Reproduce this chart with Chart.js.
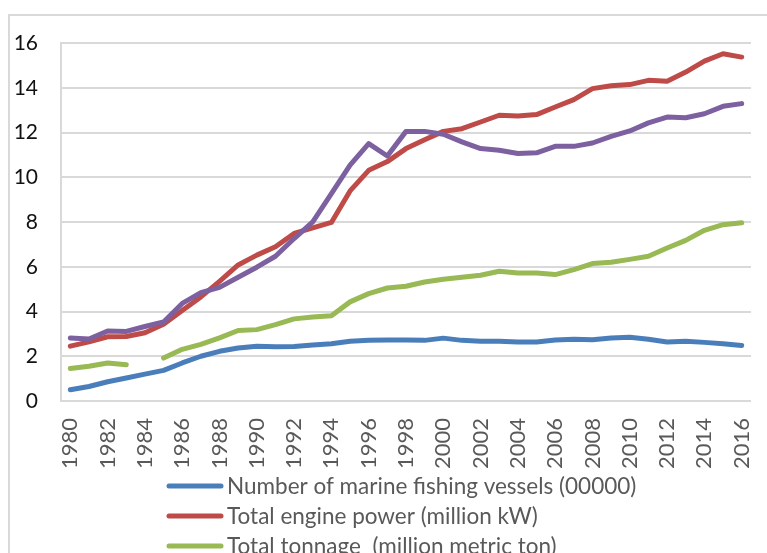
<!DOCTYPE html>
<html lang="en">
<head>
    <meta charset="UTF-8">
    <title>Marine fishing fleet</title>
    <script src="https://cdn.jsdelivr.net/npm/chart.js"></script>
    <style>
      body { margin: 0; overflow: hidden; background: #fff; }
      #wrap { position: relative; width: 767px; height: 553px; overflow: hidden; }
      #fleetChart { position: absolute; left: 0; top: 0; }
      #frame { position: absolute; left: 8px; top: 14px; width: 800px; height: 700px;
               border: 2px solid #d9d9d9; pointer-events: none; }
    </style>
</head>
<body>
  <div id="wrap">
    <canvas id="fleetChart" width="767" height="610"></canvas>
    <div id="frame"></div>
  </div>
<script>
  const years = ['1980','1981','1982','1983','1984','1985','1986','1987','1988','1989',
                 '1990','1991','1992','1993','1994','1995','1996','1997','1998','1999',
                 '2000','2001','2002','2003','2004','2005','2006','2007','2008','2009',
                 '2010','2011','2012','2013','2014','2015','2016'];

  const vessels = [0.50, 0.65, 0.86, 1.03, 1.20, 1.37, 1.70, 2.00, 2.22, 2.37,
                   2.45, 2.43, 2.44, 2.50, 2.56, 2.67, 2.72, 2.73, 2.73, 2.71,
                   2.81, 2.71, 2.67, 2.67, 2.64, 2.64, 2.73, 2.76, 2.74, 2.82,
                   2.85, 2.76, 2.64, 2.67, 2.62, 2.56, 2.48];

  const enginePower = [2.45, 2.64, 2.87, 2.88, 3.05, 3.43, 4.04, 4.65, 5.35, 6.08,
                       6.52, 6.89, 7.49, 7.74, 7.98, 9.39, 10.31, 10.70, 11.28, 11.68,
                       12.05, 12.17, 12.47, 12.77, 12.74, 12.80, 13.14, 13.47, 13.96, 14.09,
                       14.14, 14.33, 14.29, 14.70, 15.19, 15.52, 15.37];

  const tonnage = [1.45, 1.55, 1.70, 1.62, null, 1.92, 2.31, 2.53, 2.82, 3.15,
                   3.19, 3.41, 3.67, 3.75, 3.81, 4.43, 4.80, 5.05, 5.13, 5.32,
                   5.44, 5.53, 5.62, 5.80, 5.72, 5.72, 5.65, 5.87, 6.14, 6.20,
                   6.33, 6.47, 6.84, 7.18, 7.63, 7.88, 7.97];

  const catchProd = [2.82, 2.77, 3.13, 3.11, 3.33, 3.53, 4.36, 4.84, 5.08, 5.53,
                     5.98, 6.47, 7.26, 8.01, 9.27, 10.54, 11.50, 10.95, 12.05, 12.05,
                     11.92, 11.58, 11.28, 11.21, 11.06, 11.09, 11.38, 11.38, 11.53, 11.83,
                     12.07, 12.43, 12.69, 12.66, 12.84, 13.17, 13.29];

  const yTicks = [0, 2, 4, 6, 8, 10, 12, 14, 16];

  function series(label, data, color, order) {
    return {
      label: label,
      data: data,
      borderColor: color,
      backgroundColor: color,
      borderWidth: 5,
      borderCapStyle: 'round',
      borderJoinStyle: 'round',
      pointRadius: 0,
      tension: 0,
      spanGaps: false,
      order: order
    };
  }

  // legend stacked one per row under the axis, like the original
  const stackLegend = {
    id: 'stackLegend',
    afterDraw(chart) {
      const ctx = chart.ctx;
      const top = chart.scales.x.bottom + 15;
      ctx.save();
      ctx.font = '22.5px Lato';
      ctx.fillStyle = '#595959';
      ctx.textBaseline = 'middle';
      ctx.textAlign = 'left';
      chart.data.datasets.forEach((ds, i) => {
        const y = top + i * 30;
        ctx.strokeStyle = ds.borderColor;
        ctx.lineWidth = 5;
        ctx.lineCap = 'round';
        ctx.beginPath();
        ctx.moveTo(169, y);
        ctx.lineTo(221, y);
        ctx.stroke();
        ctx.fillText(ds.label, 227, y + 1);
      });
      ctx.restore();
    }
  };

  new Chart(document.getElementById('fleetChart'), {
    type: 'line',
    data: {
      labels: years,
      datasets: [
        series('Number of marine fishing vessels (00000)', vessels, '#4a7ebb', 4),
        series('Total engine power (million kW)', enginePower, '#be4b48', 3),
        series('Total tonnage  (million metric ton)', tonnage, '#98b954', 2),
        series('Marine capture production (million metric ton)', catchProd, '#7d60a0', 1)
      ]
    },
    options: {
      responsive: false,
      animation: false,
      devicePixelRatio: 1,
      layout: { padding: { top: 43, right: 16, bottom: 139, left: 0 } },
      plugins: {
        legend: { display: false },
        tooltip: { enabled: false }
      },
      scales: {
        x: {
          offset: true,
          grid: { display: false, drawTicks: false },
          border: { display: false },
          afterFit: (s) => { s.height = 70; s.paddingLeft = 0; s.paddingRight = 0; },
          ticks: {
            autoSkip: false,
            maxRotation: 90,
            minRotation: 90,
            padding: 17,
            color: '#595959',
            font: { family: 'Lato', size: 22 },
            callback: function (val, i) {
              return i % 2 === 0 ? years[i] : '';
            }
          }
        },
        y: {
          min: 0,
          max: 16,
          afterFit: (s) => { s.width = 61; },
          afterBuildTicks: (s) => { s.ticks = yTicks.map(v => ({ value: v })); },
          grid: { color: '#d9d9d9', lineWidth: 2, drawTicks: false },
          border: { color: '#d9d9d9', width: 2 },
          ticks: {
            padding: 23,
            color: '#111',
            font: { family: 'Lato', size: 21 }
          }
        }
      }
    },
    plugins: [stackLegend]
  });
</script>
</body>
</html>
